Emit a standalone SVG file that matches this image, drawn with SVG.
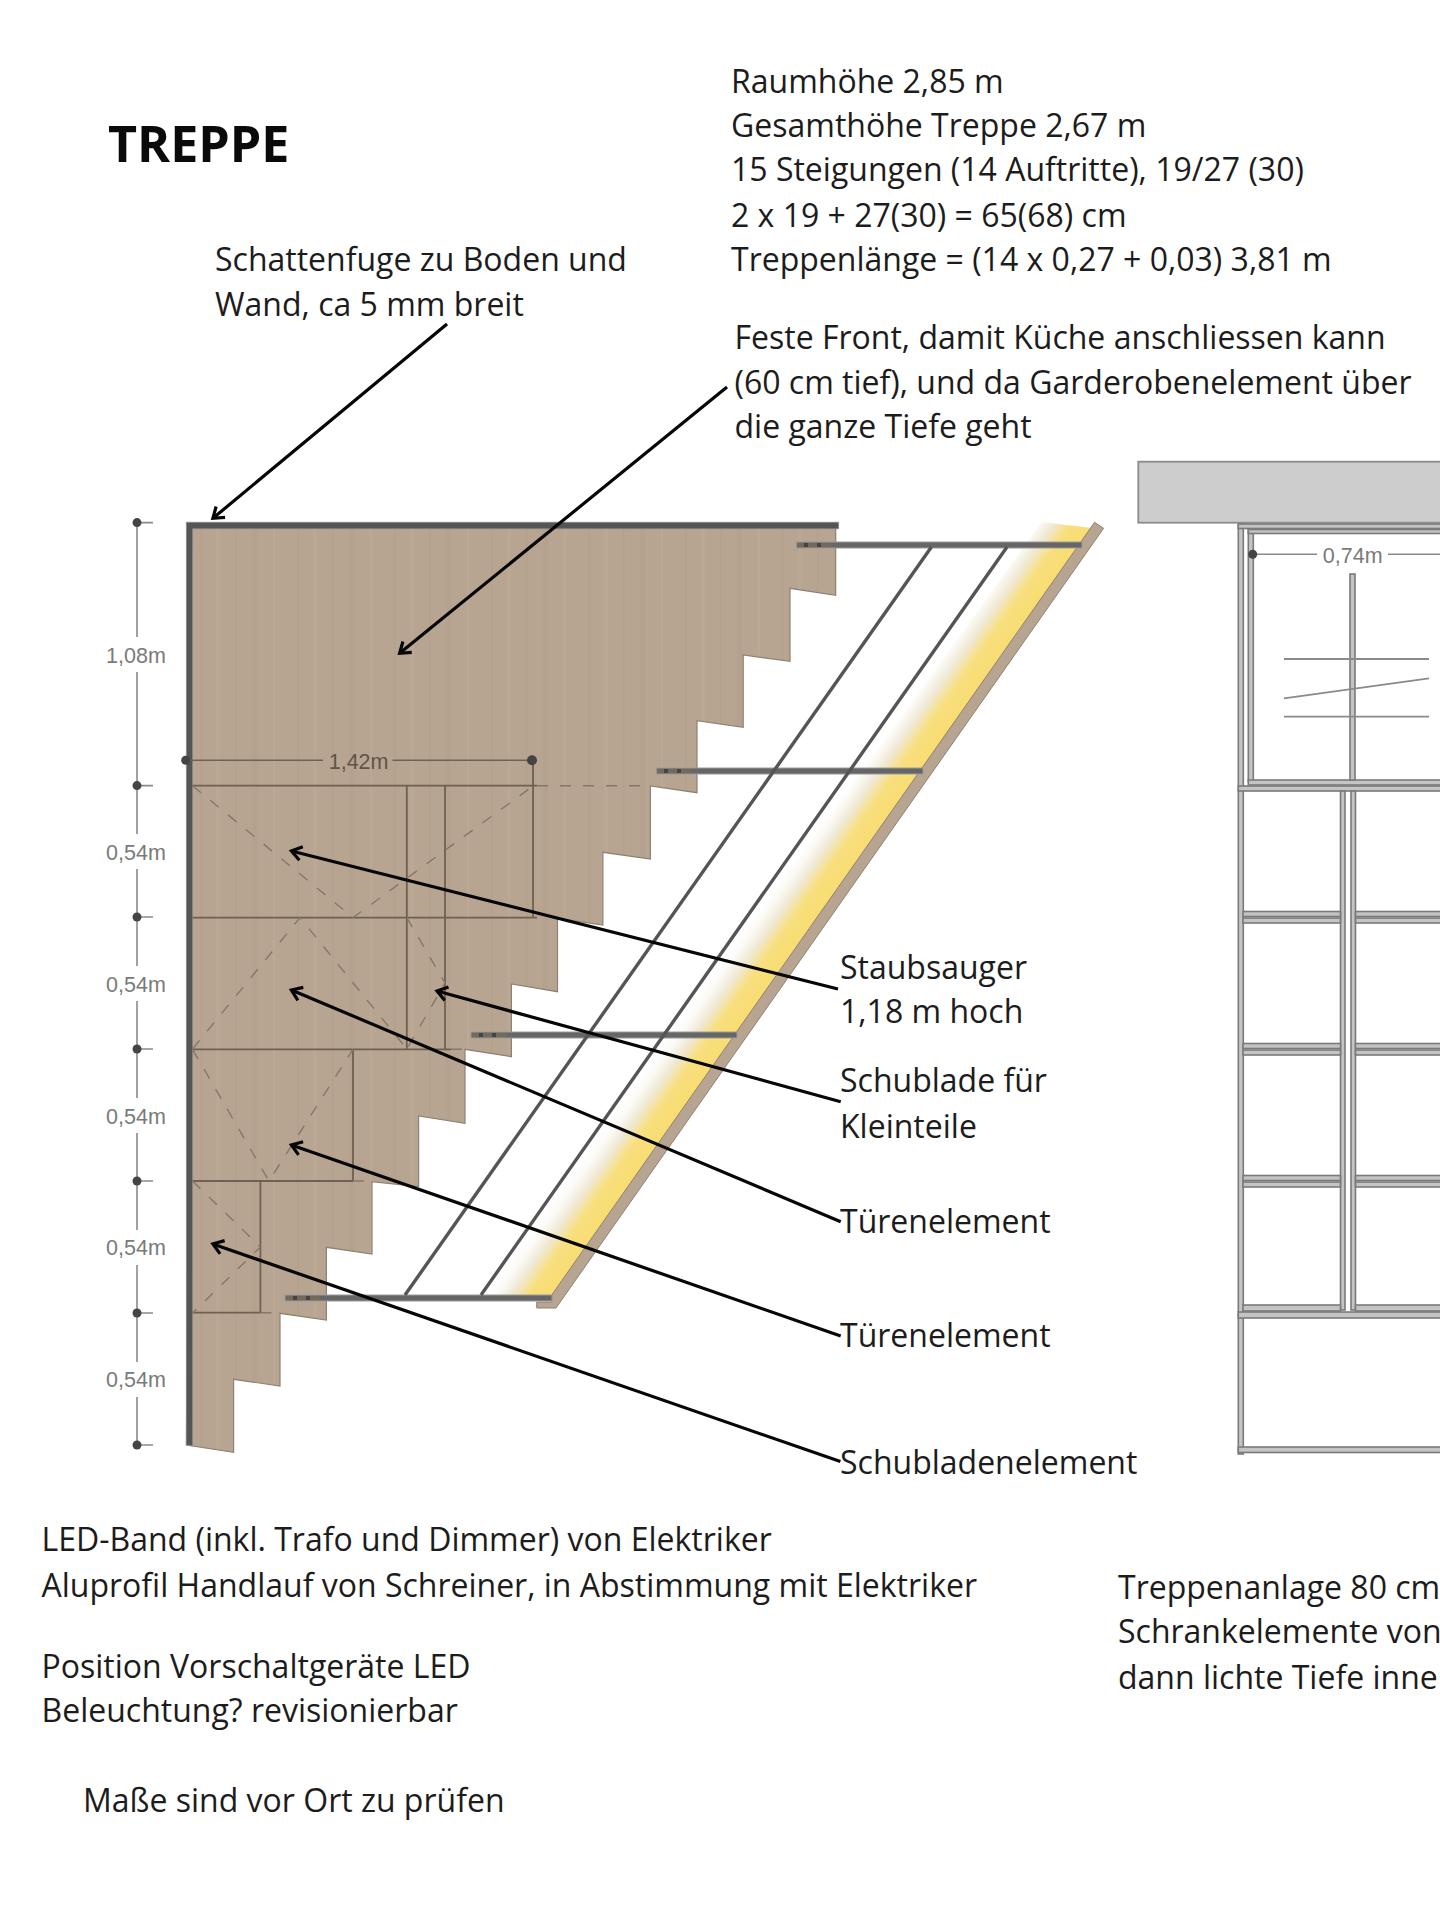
<svg xmlns="http://www.w3.org/2000/svg" width="1440" height="1910" viewBox="0 0 1440 1910">
<style>
text{font-family:"Open Sans","Noto Sans","Liberation Sans",sans-serif;fill:#1c1c1c}
.b{font-size:32px}
.h{font-size:50.2px;font-weight:700;fill:#0a0a0a}
.d{font-family:"Liberation Sans",Arial,sans-serif;font-size:21.5px;fill:#7a7a7a;text-anchor:middle}
.dd{fill:#5f5448}
.dim{stroke:#8a8a8a;stroke-width:1.6;fill:none}
.dim2{stroke:#6e6255;stroke-width:1.4;fill:none}
.pan{stroke:#6e6052;stroke-width:1.8;fill:none}
.das{stroke:#85776a;stroke-width:1.4;fill:none;stroke-dasharray:11 12}
.dot{fill:#444}
.rail{stroke:#555;stroke-width:3.4;fill:none}
.bar{fill:#666;stroke:#9a9a9a;stroke-width:1}
.mount{fill:#77695a}
.arr{stroke:#060606;stroke-width:3.2;fill:none;marker-end:url(#ah)}
.brd{fill:#c4c4c4;stroke:#7a7a7a;stroke-width:1.6}
.thin{stroke:#8a8a8a;stroke-width:1.8;fill:none}
</style>
<defs>
<marker id="ah" markerUnits="userSpaceOnUse" markerWidth="22" markerHeight="22" refX="18" refY="11" orient="auto">
<path d="M8 4L18 11L8 18" fill="none" stroke="#060606" stroke-width="3.2"/>
</marker>
<linearGradient id="led" gradientUnits="userSpaceOnUse" x1="482" y1="1295" x2="528.8" y2="1327.9">
<stop offset="0" stop-color="#fff"/>
<stop offset=".2" stop-color="#fcfbf8"/>
<stop offset=".42" stop-color="#efe9d5"/>
<stop offset=".66" stop-color="#f8df7e"/>
<stop offset="1" stop-color="#f9dd72"/>
</linearGradient>
<pattern id="grain" patternUnits="userSpaceOnUse" width="97" height="300">
<rect width="97" height="300" fill="#b8a591"/>
<rect x="6" width="2" height="300" fill="#ae9b87" opacity=".3"/>
<rect x="22" width="4" height="300" fill="#bfad9a" opacity=".4"/>
<rect x="41" width="1.5" height="300" fill="#aa9884" opacity=".3"/>
<rect x="58" width="5" height="300" fill="#b19e8a" opacity=".3"/>
<rect x="79" width="2" height="300" fill="#c1ae9b" opacity=".4"/>
</pattern>
</defs>
<rect width="1440" height="1910" fill="#fff"/>

<g id="stair">
<polygon id="led-light" points="1042,522 1092,528 551.7,1295 482,1295" fill="url(#led)"/>
<polygon id="stringer" points="1094.6,522.3 1103.6,528.3 556,1308 536.7,1308 536.7,1302 551.7,1302 551.7,1295" fill="#b8a591" stroke="#8f8172" stroke-width="1"/>
<polygon id="wood" points="192,528 835.7,528 835.7,595.3 790,588.3 790,661.3 743.2,655 743.2,727.3 697,720.7 697,792.7 650.4,786 650.4,859 602.9,852.3 602.9,925 557.5,918.3 557.5,991.7 511.4,984 511.4,1056.7 465,1049.3 465,1123.3 418.6,1116 418.6,1186.7 372,1181.7 372,1254 326.4,1247.3 326.4,1320 280,1313.3 280,1386 233.6,1379.3 233.6,1452.3 186.4,1445" fill="url(#grain)" stroke="#8f8172" stroke-width="1.2"/>
<path id="wall" d="M186.4 522.3H838.6V528.7H192.5V1445.8L186.4 1445Z" fill="#555" stroke="#888" stroke-width=".8"/>
</g>

<g id="panels">
<path class="pan" d="M192.5 785.7H537M192.5 917.6H537M406.8 785.7V1049M445 785.7V1049M533 760V917.6M192.5 1049.3H451M353 1049.3V1181M192.5 1181H353M260.4 1181V1313M192.5 1312.7H260.4"/>
<path class="das" d="M537 785.7H650M451 1049.3H465M353 1181H372M260.4 1312.7H276"/>
<path class="das" d="M192.5 785.7L353 917.6L533 786M192.5 1049L300 917.6L406.8 1049M406.8 917.6L445 983L406.8 1049M192.5 1049.3L269 1181L353 1049.3M192.5 1181L260.4 1247L192.5 1313"/>
</g>

<g id="rails">
<polygon class="bar" points="796.4,542 1082,542 1082,548 796.4,548"/>
<polygon class="bar" points="656.4,768 923,768 923,774 656.4,774"/>
<polygon class="bar" points="471,1032 737,1032 737,1038 471,1038"/>
<polygon class="bar" points="285,1295 552,1295 552,1301 285,1301"/>
<rect class="mount" x="797" y="543" width="34" height="4"/><rect class="dot" x="804" y="543" width="4" height="4"/><rect class="dot" x="817" y="543" width="4" height="4"/>
<rect class="mount" x="657" y="769" width="34" height="4"/><rect class="dot" x="664" y="769" width="4" height="4"/><rect class="dot" x="677" y="769" width="4" height="4"/>
<rect class="mount" x="472" y="1033" width="34" height="4"/><rect class="dot" x="479" y="1033" width="4" height="4"/><rect class="dot" x="492" y="1033" width="4" height="4"/>
<rect class="mount" x="286" y="1296" width="34" height="4"/><rect class="dot" x="293" y="1296" width="4" height="4"/><rect class="dot" x="306" y="1296" width="4" height="4"/>
<path class="rail" d="M931.4 547L405 1295M1007 547L481 1295"/>
</g>

<g id="dimensions">
<path class="dim" d="M137 522.6V637M137 672V834M137 869V966M137 1001V1098M137 1133V1230M137 1265V1362M137 1397V1445M137 522.6H153M137 785.6H153M137 917H153M137 1049H153M137 1181H153M137 1313H153M137 1445H153"/>
<g class="dot"><circle cx="137" cy="522.6" r="4.5"/><circle cx="137" cy="785.6" r="4.5"/><circle cx="137" cy="917" r="4.5"/><circle cx="137" cy="1049" r="4.5"/><circle cx="137" cy="1181" r="4.5"/><circle cx="137" cy="1313" r="4.5"/><circle cx="137" cy="1445" r="4.5"/></g>
<text class="d" x="136" y="663">1,08m</text>
<text class="d" x="136" y="860">0,54m</text>
<text class="d" x="136" y="992">0,54m</text>
<text class="d" x="136" y="1124">0,54m</text>
<text class="d" x="136" y="1255">0,54m</text>
<text class="d" x="136" y="1387">0,54m</text>
<path class="dim2" d="M186 760.3H323M392.5 760.3H532"/>
<circle class="dot" cx="185.7" cy="760.3" r="4.5"/><circle class="dot" cx="532" cy="760.3" r="5"/>
<text class="d dd" x="358.6" y="769">1,42m</text>
</g>

<g id="cabinet">
<rect x="1138.3" y="461.7" width="310" height="61" fill="#cdcdcd" stroke="#8a8a8a" stroke-width="1.8"/>
<rect class="brd" x="1238.3" y="524" width="5" height="930"/>
<rect class="brd" x="1238.3" y="524" width="210" height="4.5"/>
<rect class="brd" x="1248.3" y="529.5" width="5" height="252"/>
<rect class="brd" x="1248.3" y="529.5" width="200" height="4"/>
<rect class="brd" x="1248.3" y="780" width="200" height="5"/>
<rect class="brd" x="1238.3" y="786" width="210" height="5"/>
<rect class="brd" x="1340.5" y="791" width="4.5" height="519"/>
<rect class="brd" x="1351" y="791" width="4.5" height="519"/>
<g>
<rect class="brd" x="1243" y="911.5" width="97.5" height="5"/><rect class="brd" x="1243" y="918" width="97.5" height="5"/>
<rect class="brd" x="1355.5" y="911.5" width="90" height="5"/><rect class="brd" x="1355.5" y="918" width="90" height="5"/>
<rect class="brd" x="1243" y="1043.5" width="97.5" height="5"/><rect class="brd" x="1243" y="1050" width="97.5" height="5"/>
<rect class="brd" x="1355.5" y="1043.5" width="90" height="5"/><rect class="brd" x="1355.5" y="1050" width="90" height="5"/>
<rect class="brd" x="1243" y="1175.5" width="97.5" height="5"/><rect class="brd" x="1243" y="1182" width="97.5" height="5"/>
<rect class="brd" x="1355.5" y="1175.5" width="90" height="5"/><rect class="brd" x="1355.5" y="1182" width="90" height="5"/>
<rect class="brd" x="1243" y="1305" width="97.5" height="6"/><rect class="brd" x="1355.5" y="1305" width="90" height="6"/>
<rect class="brd" x="1238.3" y="1312" width="210" height="6"/>
<rect class="brd" x="1238.3" y="1447" width="210" height="5.5"/>
</g>
<rect class="brd" x="1350" y="574" width="5" height="206"/>
<path class="thin" d="M1284 659H1429M1284 716.7H1429M1284 698.3L1429 678.3"/>
<path class="dim" d="M1253 554.3H1317M1388 554.3H1440"/>
<circle class="dot" cx="1252.7" cy="554.3" r="4.5"/>
<text class="d" x="1352.7" y="563">0,74m</text>
</g>

<g id="connectors">
<path class="arr" d="M447 324L212.9 518.3"/>
<path class="arr" d="M727 387L399.6 653.3"/>
<path class="arr" d="M838 989L291.4 851"/>
<path class="arr" d="M840.7 1101.7L437 991"/>
<path class="arr" d="M840.7 1221.7L291.4 990"/>
<path class="arr" d="M840.7 1336L291.4 1145"/>
<path class="arr" d="M840.4 1461.6L212.9 1244"/>
</g>

<g id="labels">
<text class="h" x="108" y="162">TREPPE</text>
<text class="b" x="731" y="93">Raumhöhe 2,85 m</text>
<text class="b" x="731" y="137">Gesamthöhe Treppe 2,67 m</text>
<text class="b" x="731" y="181">15 Steigungen (14 Auftritte), 19/27 (30)</text>
<text class="b" x="731" y="227">2 x 19 + 27(30) = 65(68) cm</text>
<text class="b" x="731" y="271">Treppenlänge = (14 x 0,27 + 0,03) 3,81 m</text>
<text class="b" x="215" y="271">Schattenfuge zu Boden und</text>
<text class="b" x="215" y="316">Wand, ca 5 mm breit</text>
<text class="b" x="734.5" y="349">Feste Front, damit Küche anschliessen kann</text>
<text class="b" x="734.5" y="394">(60 cm tief), und da Garderobenelement über</text>
<text class="b" x="734.5" y="438">die ganze Tiefe geht</text>
<text class="b" x="840" y="979">Staubsauger</text>
<text class="b" x="840" y="1023">1,18 m hoch</text>
<text class="b" x="840" y="1092">Schublade für</text>
<text class="b" x="840" y="1138">Kleinteile</text>
<text class="b" x="840" y="1233">Türenelement</text>
<text class="b" x="840" y="1347">Türenelement</text>
<text class="b" x="840" y="1474">Schubladenelement</text>
<text class="b" x="41.5" y="1551">LED-Band (inkl. Trafo und Dimmer) von Elektriker</text>
<text class="b" x="41.5" y="1597">Aluprofil Handlauf von Schreiner, in Abstimmung mit Elektriker</text>
<text class="b" x="41.5" y="1678">Position Vorschaltgeräte LED</text>
<text class="b" x="41.5" y="1722">Beleuchtung? revisionierbar</text>
<text class="b" x="83" y="1812">Maße sind vor Ort zu prüfen</text>
<text class="b" x="1118" y="1599">Treppenanlage 80 cm</text>
<text class="b" x="1118" y="1643">Schrankelemente von</text>
<text class="b" x="1118" y="1689">dann lichte Tiefe inne</text>
</g>
</svg>
